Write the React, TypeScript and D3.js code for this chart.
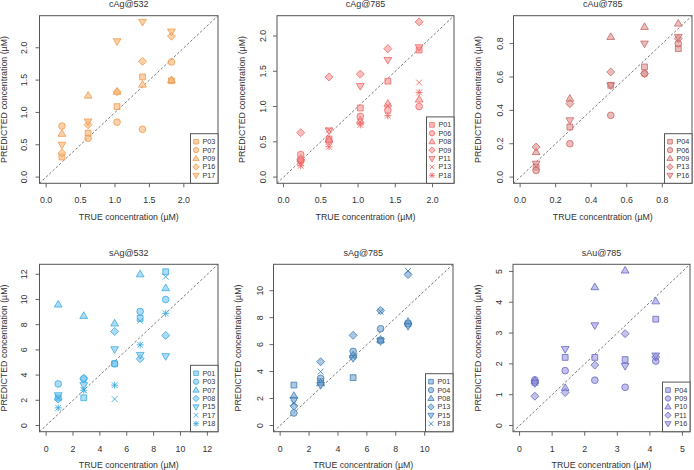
import React from "react";
import * as d3 from "d3";

const FONT = "'Liberation Sans', Arial, Helvetica, sans-serif";
const W = 694;
const H = 470;

// ── data: true concentrations (x) and predicted values per probe ──────────
const cAg532X = [0.23, 0.61, 1.03, 1.4, 1.82];
const cAg532Names = ["P03", "P07", "P09", "P16", "P17"];
const cAg532Vals = [
  [0.31, 0.68, 1.09, 1.55, 1.49],
  [0.79, 0.6, 0.85, 0.74, 1.78],
  [0.67, 1.26, 1.32, 1.43, 1.5],
  [0.37, 0.81, 1.32, 1.79, 2.18],
  [0.5, 0.86, 2.1, 2.4, 2.25],
];

const cAg785X = [0.23, 0.61, 1.03, 1.4, 1.82];
const cAg785Names = ["P01", "P06", "P08", "P09", "P11", "P13", "P18"];
const cAg785Vals = [
  [0.24, 0.54, 0.98, 1.36, 1.8],
  [0.32, 0.51, 0.86, 0.95, 1.0],
  [0.26, 0.53, 0.8, 1.04, 1.1],
  [0.63, 1.42, 1.46, 1.82, 2.2],
  [0.22, 0.66, 1.29, 1.66, 1.84],
  [0.2, 0.67, 0.78, 1.01, 1.34],
  [0.16, 0.43, 0.74, 0.87, 1.2],
];

const cAu785X = [0.09, 0.28, 0.51, 0.7, 0.89];
const cAu785Names = ["P04", "P06", "P09", "P13", "P16"];
const cAu785Vals = [
  [0.06, 0.3, 0.55, 0.66, 0.77],
  [0.04, 0.2, 0.37, 0.62, 0.8],
  [0.15, 0.47, 0.84, 0.9, 0.92],
  [0.18, 0.44, 0.63, 0.62, 0.83],
  [0.08, 0.34, 0.55, 0.8, 0.84],
];

const sAg532X = [0.9, 2.8, 5.1, 7.0, 8.9];
const sAg532Names = ["P01", "P03", "P07", "P08", "P15", "P17", "P18"];
const sAg532Vals = [
  [2.2, 2.2, 4.9, 8.5, 12.2],
  [3.3, 3.7, 4.9, 9.05, 10.0],
  [9.6, 8.7, 8.1, 12.0, 10.9],
  [2.1, 3.75, 7.46, 5.3, 7.15],
  [2.4, 3.2, 6.05, 5.6, 5.5],
  [2.2, 2.8, 2.1, 8.3, 11.8],
  [1.4, 2.8, 3.2, 6.4, 8.9],
];

const sAg785X = [0.95, 2.8, 5.05, 6.95, 8.85];
const sAg785Names = ["P01", "P04", "P08", "P13", "P15", "P18"];
const sAg785Vals = [
  [3.0, 3.26, 3.55, 6.32, 7.55],
  [0.93, 3.5, 5.5, 7.18, 7.55],
  [2.2, 3.14, 5.2, 6.37, 7.7],
  [1.45, 4.73, 6.69, 8.53, 11.2],
  [1.9, 3.0, 5.0, 6.25, 7.38],
  [1.65, 4.0, 5.1, 8.45, 11.47],
];

const sAu785X = [0.47, 1.4, 2.31, 3.24, 4.18];
const sAu785Names = ["P04", "P09", "P10", "P11", "P16"];
const sAu785Vals = [
  [1.4, 2.21, 2.21, 2.14, 3.45],
  [1.48, 1.78, 1.47, 1.24, 2.09],
  [1.45, 1.22, 4.49, 5.03, 4.03],
  [0.95, 1.07, 1.96, 2.98, 2.22],
  [1.37, 2.48, 3.25, 1.93, 2.27],
];

const ticksDec = [0, 0.5, 1, 1.5, 2];
const ticksAu = [0, 0.2, 0.4, 0.6, 0.8];
const ticksS532 = [0, 2, 4, 6, 8, 10, 12];
const ticksS785 = [0, 2, 4, 6, 8, 10];
const ticksSAu = [0, 1, 2, 3, 4, 5];

// ── layout (box in page px) ──────────────────────────────────────────────
const panels = [
  { title: "cAg@532", x: cAg532X, names: cAg532Names, vals: cAg532Vals, lim: 2.4, ticks: ticksDec, fmt: ".1f",
    box: [39.5, 15.7, 218, 183.3], ytx: 16, stroke: "#ef984a", fill: "#f8b271" },
  { title: "cAg@785", x: cAg785X, names: cAg785Names, vals: cAg785Vals, lim: 2.2, ticks: ticksDec, fmt: ".1f",
    box: [277, 15.7, 454, 183.3], ytx: 14, stroke: "#f06464", fill: "#f59292" },
  { title: "cAu@785", x: cAu785X, names: cAu785Names, vals: cAu785Vals, lim: 0.93, ticks: ticksAu, fmt: ".1f",
    box: [513.5, 15.7, 692, 183.3], ytx: 13.5, stroke: "#c96462", fill: "#d99290" },
  { title: "sAg@532", x: sAg532X, names: sAg532Names, vals: sAg532Vals, lim: 12.3, ticks: ticksS532, fmt: "d",
    box: [39.5, 264.3, 218, 431.7], ytx: 16, stroke: "#36a8e0", fill: "#74c4ec" },
  { title: "sAg@785", x: sAg785X, names: sAg785Names, vals: sAg785Vals, lim: 11.5, ticks: ticksS785, fmt: "d",
    box: [273.5, 264.3, 453, 431.7], ytx: 14, stroke: "#3b7cb3", fill: "#73a3cf" },
  { title: "sAu@785", x: sAu785X, names: sAu785Names, vals: sAu785Vals, lim: 5.03, ticks: ticksSAu, fmt: "d",
    box: [513, 264.3, 690, 431.7], ytx: 14.5, stroke: "#6464c4", fill: "#9797da" },
];

const SHAPES = ["square", "circle", "up", "diamond", "down", "cross", "star"];

function shapePath(shape: string, s: number) {
  const a = 2.9 * s, d = 4 * s, h = 4.1 * s, w = 3.9 * s;
  switch (shape) {
    case "square": return `M${-a},${-a}H${a}V${a}H${-a}Z`;
    case "up": return `M0,${-h}L${w},${h * 0.62}L${-w},${h * 0.62}Z`;
    case "down": return `M0,${h}L${w},${-h * 0.62}L${-w},${-h * 0.62}Z`;
    case "diamond": return `M0,${-d}L${d},0L0,${d}L${-d},0Z`;
    case "cross": return `M${-a},${-a}L${a},${a}M${-a},${a}L${a},${-a}`;
    case "star": {
      const p = 3.5 * s;
      return `M${-a},${-a}L${a},${a}M${-a},${a}L${a},${-a}M0,${-p}L0,${p}M${-p},0L${p},0`;
    }
  }
  return "";
}

function Marker({ shape, cx, cy, s, stroke, fill }: any) {
  const open = shape === "cross" || shape === "star";
  if (shape === "circle") {
    return <circle cx={cx} cy={cy} r={3.35 * s} fill={fill} fillOpacity={0.6}
      stroke={stroke} strokeOpacity={0.85} strokeWidth={0.9} />;
  }
  return (
    <path transform={`translate(${cx},${cy})`} d={shapePath(shape, s)}
      fill={open ? "none" : fill} fillOpacity={0.6}
      stroke={stroke} strokeOpacity={0.85} strokeWidth={open ? 1 : 0.9} />
  );
}

function Panel({ p }: any) {
  const [x0, y0, x1, y1] = p.box;
  const dom = [-0.04 * p.lim, 1.04 * p.lim];
  const xs = d3.scaleLinear().domain(dom).range([x0, x1]);
  const ys = d3.scaleLinear().domain(dom).range([y1, y0]);
  const fmt = d3.format(p.fmt);
  const cx = (x0 + x1) / 2;
  const cy = (y0 + y1) / 2;
  const txt = { fontFamily: FONT, fill: "#333" };

  const n = p.names.length;
  const rowH = 8.4;
  const legH = n * rowH + 7.6;
  const legW = 27.5;
  const lx = x1 - legW;
  const ly = y1 - legH;

  return (
    <g>
      <text x={cx} y={y0 - 11.5} dy="0.35em" textAnchor="middle" fontSize={9} {...txt}>{p.title}</text>

      {/* diagonal */}
      <line x1={xs(dom[0])} y1={ys(dom[0])} x2={xs(dom[1])} y2={ys(dom[1])}
        stroke="#555" strokeWidth={0.8} strokeDasharray="2.5,2" />

      {/* points */}
      {p.vals.map((series: number[], si: number) =>
        series.map((v, i) => (
          <Marker key={`${si}-${i}`} shape={SHAPES[si]} cx={xs(p.x[i])} cy={ys(v)} s={1}
            stroke={p.stroke} fill={p.fill} />
        ))
      )}

      {/* box */}
      <rect x={x0} y={y0} width={x1 - x0} height={y1 - y0} fill="none" stroke="#555" strokeWidth={1} />

      {/* x axis */}
      {p.ticks.map((t: number) => (
        <g key={`xt${t}`}>
          <line x1={xs(t)} x2={xs(t)} y1={y1} y2={y1 + 4} stroke="#555" strokeWidth={0.9} />
          <text x={xs(t)} y={y1 + 17} dy="0.35em" textAnchor="middle" fontSize={8.8} {...txt}>{fmt(t)}</text>
        </g>
      ))}
      <text x={cx} y={y1 + 33.4} dy="0.35em" textAnchor="middle" fontSize={8.8} {...txt}>TRUE concentration (µM)</text>

      {/* y axis */}
      {p.ticks.map((t: number) => (
        <g key={`yt${t}`}>
          <line x1={x0} x2={x0 - 4} y1={ys(t)} y2={ys(t)} stroke="#555" strokeWidth={0.9} />
          <text transform={`translate(${x0 - p.ytx},${ys(t)}) rotate(-90)`} dy="0.35em" textAnchor="middle"
            fontSize={8.8} {...txt}>{fmt(t)}</text>
        </g>
      ))}
      <text transform={`translate(${x0 - 35.5},${cy}) rotate(-90)`} dy="0.35em" textAnchor="middle"
        fontSize={8.8} {...txt}>PREDICTED concentration (µM)</text>

      {/* legend */}
      <rect x={lx} y={ly} width={legW} height={legH} fill="#fff" stroke="#555" strokeWidth={1} />
      {p.names.map((name: string, i: number) => {
        const ry = ly + 3.8 + rowH * (i + 0.5);
        return (
          <g key={name}>
            <Marker shape={SHAPES[i]} cx={lx + 5.5} cy={ry} s={0.8} stroke={p.stroke} fill={p.fill} />
            <text x={lx + 12} y={ry} dy="0.35em" fontSize={7.2} {...txt}>{name}</text>
          </g>
        );
      })}
    </g>
  );
}

export default function App() {
  return (
    <svg width={W} height={H} viewBox={`0 0 ${W} ${H}`}
      style={{ position: "absolute", left: 0, top: 0, background: "#fff" }}>
      <rect width={W} height={H} fill="#fff" />
      {panels.map((p) => <Panel key={p.title} p={p} />)}
    </svg>
  );
}
